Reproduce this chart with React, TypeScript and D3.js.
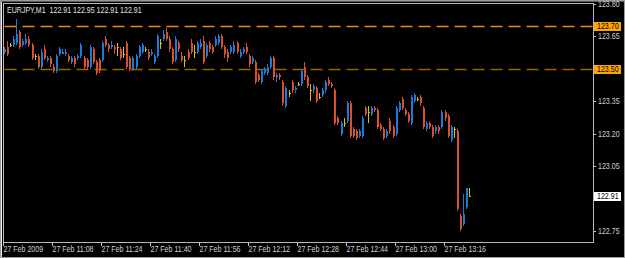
import React, { useEffect } from "react";
import * as d3 from "d3";

const SYMBOL = "EURJPY,M1";
const OPEN = [123.58,123.60,123.61,123.61,123.62,123.67,123.61,123.62,123.64,123.61,123.56,123.56,123.51,123.59,123.54,123.55,123.51,123.49,123.57,123.57,123.57,123.56,123.53,123.55,123.55,123.56,123.55,123.54,123.51,123.59,123.53,123.54,123.54,123.64,123.61,123.60,123.60,123.60,123.59,123.57,123.62,123.55,123.50,123.51,123.56,123.58,123.59,123.58,123.57,123.53,123.56,123.62,123.64,123.67,123.64,123.59,123.54,123.62,123.56,123.54,123.58,123.62,123.58,123.58,123.60,123.63,123.56,123.62,123.60,123.61,123.62,123.65,123.60,123.58,123.58,123.58,123.62,123.56,123.58,123.60,123.56,123.53,123.53,123.47,123.44,123.48,123.48,123.51,123.55,123.46,123.47,123.44,123.33,123.39,123.44,123.40,123.43,123.43,123.51,123.46,123.40,123.40,123.41,123.37,123.38,123.40,123.45,123.43,123.40,123.27,123.20,123.25,123.26,123.34,123.22,123.21,123.19,123.19,123.32,123.30,123.29,123.32,123.31,123.24,123.22,123.19,123.26,123.23,123.20,123.31,123.36,123.31,123.29,123.25,123.35,123.36,123.37,123.32,123.22,123.25,123.23,123.21,123.23,123.23,123.30,123.28,123.17,123.22,123.21,122.82,122.78,122.86,122.91];
const HIGH = [123.60,123.63,123.62,123.65,123.73,123.68,123.64,123.66,123.65,123.62,123.57,123.57,123.59,123.61,123.56,123.56,123.52,123.57,123.60,123.59,123.59,123.57,123.56,123.56,123.57,123.62,123.56,123.55,123.61,123.60,123.54,123.55,123.63,123.65,123.62,123.63,123.61,123.62,123.60,123.60,123.63,123.56,123.56,123.57,123.61,123.62,123.60,123.59,123.59,123.57,123.66,123.64,123.68,123.69,123.65,123.60,123.65,123.63,123.58,123.56,123.59,123.64,123.61,123.63,123.64,123.65,123.62,123.63,123.61,123.65,123.66,123.66,123.61,123.59,123.61,123.63,123.63,123.59,123.60,123.62,123.57,123.56,123.54,123.48,123.50,123.51,123.52,123.56,123.56,123.48,123.48,123.45,123.42,123.40,123.45,123.42,123.44,123.50,123.53,123.47,123.43,123.43,123.42,123.39,123.41,123.45,123.46,123.44,123.41,123.28,123.26,123.27,123.35,123.35,123.23,123.22,123.22,123.28,123.33,123.33,123.33,123.33,123.32,123.25,123.23,123.22,123.27,123.24,123.33,123.35,123.37,123.32,123.30,123.38,123.39,123.37,123.38,123.33,123.26,123.26,123.24,123.24,123.24,123.31,123.31,123.29,123.24,123.23,123.22,122.83,122.92,122.95,122.95];
const LOW = [123.57,123.56,123.60,123.60,123.61,123.59,123.60,123.61,123.60,123.54,123.54,123.50,123.50,123.54,123.53,123.51,123.48,123.48,123.56,123.57,123.56,123.53,123.52,123.51,123.54,123.55,123.50,123.50,123.50,123.52,123.47,123.48,123.53,123.60,123.58,123.59,123.57,123.56,123.54,123.55,123.50,123.49,123.49,123.50,123.55,123.57,123.58,123.54,123.56,123.52,123.55,123.59,123.63,123.63,123.58,123.52,123.53,123.58,123.53,123.51,123.54,123.57,123.55,123.57,123.59,123.52,123.55,123.58,123.57,123.60,123.61,123.59,123.55,123.53,123.57,123.57,123.57,123.55,123.57,123.57,123.51,123.52,123.43,123.44,123.43,123.47,123.47,123.50,123.45,123.44,123.45,123.33,123.32,123.37,123.39,123.39,123.42,123.42,123.45,123.41,123.35,123.39,123.34,123.36,123.37,123.39,123.42,123.41,123.24,123.24,123.19,123.23,123.25,123.18,123.18,123.17,123.18,123.18,123.28,123.25,123.28,123.30,123.22,123.21,123.17,123.18,123.20,123.18,123.19,123.30,123.31,123.28,123.25,123.24,123.34,123.35,123.33,123.22,123.21,123.22,123.18,123.20,123.20,123.22,123.26,123.18,123.16,123.18,122.84,122.75,122.77,122.85,122.91];
const CLOSE = [123.59,123.57,123.61,123.64,123.66,123.60,123.63,123.64,123.61,123.55,123.56,123.51,123.58,123.55,123.55,123.52,123.49,123.56,123.59,123.58,123.58,123.54,123.55,123.52,123.56,123.61,123.51,123.51,123.60,123.53,123.48,123.49,123.62,123.61,123.59,123.61,123.59,123.60,123.55,123.57,123.51,123.50,123.55,123.56,123.60,123.61,123.59,123.55,123.58,123.56,123.65,123.62,123.66,123.64,123.59,123.53,123.64,123.59,123.54,123.54,123.55,123.58,123.58,123.62,123.62,123.53,123.61,123.59,123.58,123.64,123.65,123.60,123.57,123.55,123.60,123.61,123.58,123.58,123.59,123.58,123.52,123.55,123.44,123.45,123.49,123.50,123.51,123.55,123.46,123.47,123.46,123.34,123.41,123.39,123.40,123.41,123.43,123.49,123.46,123.42,123.40,123.42,123.35,123.37,123.40,123.44,123.43,123.42,123.25,123.25,123.25,123.25,123.34,123.19,123.19,123.18,123.21,123.27,123.29,123.30,123.32,123.31,123.23,123.22,123.18,123.21,123.21,123.19,123.32,123.34,123.32,123.29,123.26,123.37,123.38,123.36,123.34,123.23,123.25,123.23,123.19,123.23,123.21,123.30,123.27,123.19,123.23,123.22,122.85,122.76,122.83,122.95,122.91];

const TIME_TICK_BARS = [0, 16, 32, 48, 64, 80, 96, 112, 128, 144];
const TIME_TICK_LABELS = ["27 Feb 2009","27 Feb 11:08","27 Feb 11:24","27 Feb 11:40","27 Feb 11:56","27 Feb 12:12","27 Feb 12:28","27 Feb 12:44","27 Feb 13:00","27 Feb 13:16"];
const PRICE_TICKS = [123.80, 123.65, 123.35, 123.20, 123.05, 122.75];
const LEVELS = [123.70, 123.50];
const LEVEL_COLORS = ["#e69000", "#9a6000"];
const CURRENT = 122.91;

const W = 625, H = 258;
const FONT = "'Liberation Sans', Arial, sans-serif";
const FS = 8.6;
const SX = 0.82;

function Label(props: { x: number; y: number; fill: string; children: React.ReactNode }) {
  return (
    <text transform={`translate(${props.x},${props.y}) scale(${SX},1)`} fontSize={FS} fontFamily={FONT}
      fill={props.fill} style={{ whiteSpace: "pre" }}>
      {props.children}
    </text>
  );
}

export default function App() {
  useEffect(() => {
    document.body.style.margin = "0";
  }, []);
  const n = CLOSE.length;
  const x = d3.scaleLinear().domain([0, n - 1]).range([4, 469]);
  const y = d3.scaleLinear().domain([122.75, 123.80]).range([230.8, 4]);
  const frame = { l: 3.5, t: 3.5, r: 593.5, b: 242.5 };
  const fmt = d3.format(".2f");
  const col = (i: number) =>
    CLOSE[i] > OPEN[i] ? "#1e7ad8" : CLOSE[i] < OPEN[i] ? "#d8502c" : "#d4c418";

  return (
    <svg width={W} height={H} style={{ display: "block", position: "absolute", left: 0, top: 0, background: "#000" }}>
      <rect x={0} y={0} width={W} height={H} fill="#000" />
      <rect x={0.5} y={0.5} width={W - 1} height={H - 1} fill="none" stroke="#9a9a9a" />
      <line x1={1.5} y1={1.5} x2={1.5} y2={H - 1} stroke="#e8e8e8" />
      <line x1={1.5} y1={1.5} x2={W - 1} y2={1.5} stroke="#5a5a5a" />
      <rect x={frame.l} y={frame.t} width={frame.r - frame.l} height={frame.b - frame.t} fill="#000" stroke="#b8b8b8" />
      {LEVELS.map((lv, k) => (
        <line key={lv} x1={frame.l + 1} x2={frame.r - 1} y1={Math.round(y(lv)) + 0.5} y2={Math.round(y(lv)) + 0.5}
          stroke={LEVEL_COLORS[k]} strokeWidth={1.6} strokeDasharray="12,6" />
      ))}
      <g shapeRendering="crispEdges">
        {CLOSE.map((c, i) => {
          const cx = Math.round(x(i));
          const yh = y(HIGH[i]), yl = y(LOW[i]);
          const yt = y(Math.max(OPEN[i], c)), yb = y(Math.min(OPEN[i], c));
          return (
            <g key={i} fill={col(i)}>
              <rect x={cx} y={yh} width={1} height={Math.max(1, yl - yh)} />
              <rect x={cx - 0.5} y={yt} width={2} height={Math.max(1, yb - yt)} />
            </g>
          );
        })}
      </g>
      {PRICE_TICKS.map((p) => (
        <g key={p}>
          <rect x={594} y={Math.round(y(p))} width={2} height={1} fill="#c8c8c8" />
          <Label x={598} y={y(p) + 3} fill="#d0d0d0">{fmt(p)}</Label>
        </g>
      ))}
      {LEVELS.map((lv) => (
        <g key={"lab" + lv}>
          <rect x={594} y={Math.round(y(lv)) - 4} width={27} height={9} fill="#ffa500" />
          <Label x={597} y={y(lv) + 3} fill="#000">{fmt(lv)}</Label>
        </g>
      ))}
      <rect x={594} y={Math.round(y(CURRENT)) - 4} width={27} height={9} fill="#ffffff" />
      <Label x={597} y={y(CURRENT) + 3} fill="#000">{fmt(CURRENT)}</Label>
      {TIME_TICK_BARS.map((b, k) => {
        const tx = Math.round(x(b)) - 0.5;
        return (
          <g key={b}>
            <line x1={tx} x2={tx} y1={243} y2={246} stroke="#c8c8c8" />
            <Label x={tx} y={252} fill="#d0d0d0">{TIME_TICK_LABELS[k]}</Label>
          </g>
        );
      })}
      <Label x={7} y={13} fill="#e0e0e0">
        {`${SYMBOL}  ${fmt(OPEN[n - 1])} ${fmt(HIGH[n - 1])} ${fmt(LOW[n - 1])} ${fmt(CLOSE[n - 1])}`}
      </Label>
    </svg>
  );
}
